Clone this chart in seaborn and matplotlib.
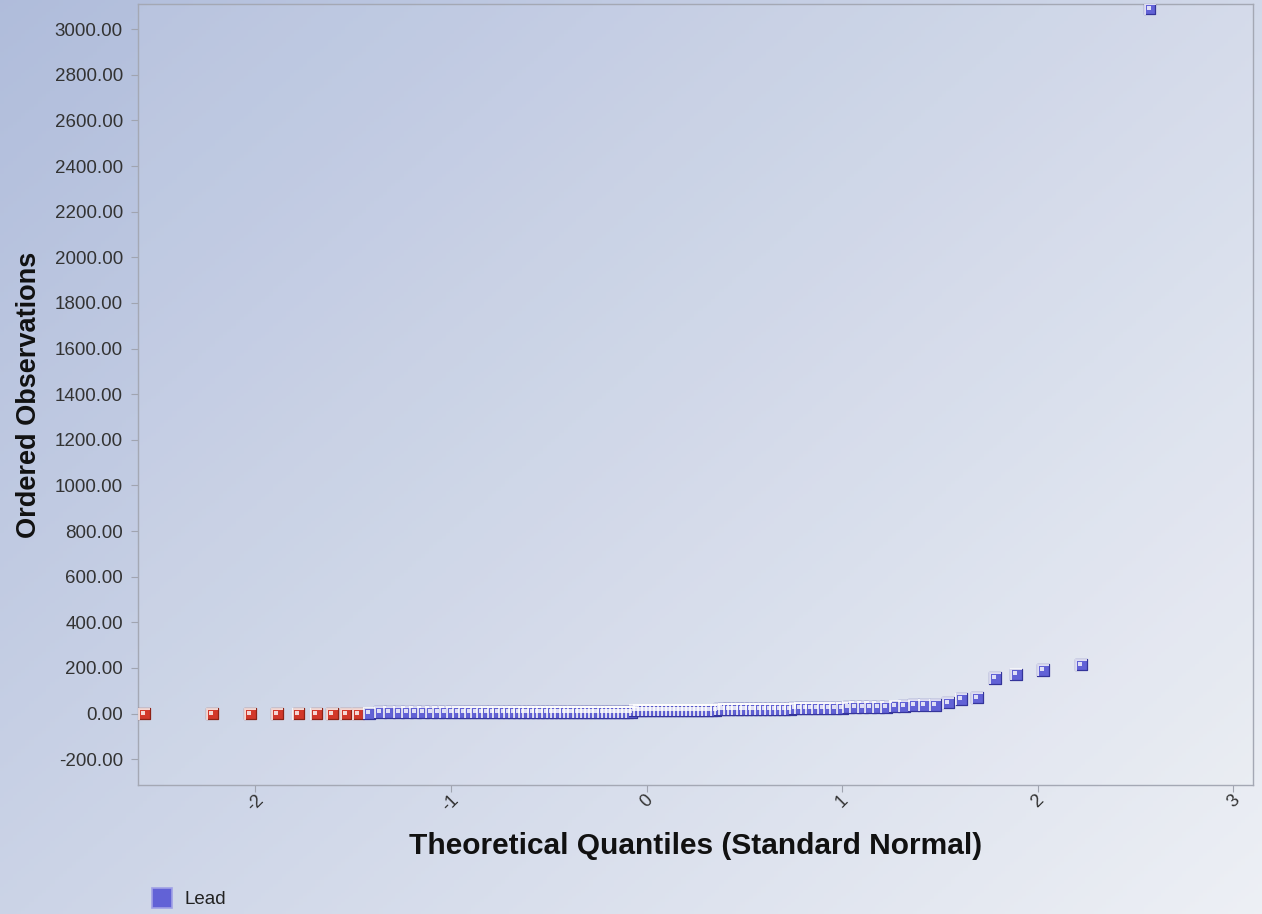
import numpy as np
import pandas as pd
import matplotlib
matplotlib.use("Agg")
import matplotlib.pyplot as plt
import seaborn as sns
from statistics import NormalDist
from matplotlib.path import Path
from matplotlib.lines import Line2D

# ---------------- data ----------------
lead_ordered = [
    0, 0, 0, 0, 0, 0, 0, 0, 0,
    1,
    8, 8, 8, 8, 8, 8, 8, 8, 8, 8, 8, 8, 8, 8, 8, 8,
    8, 8, 8, 8, 8, 8, 8, 8, 8, 8, 8, 8, 8, 8, 8, 8,
    8, 8, 8, 8, 8, 8, 8, 8, 8, 8, 8, 8, 8, 8, 8, 8,
    14, 14, 14, 14, 14, 14, 14, 14, 14, 14, 14, 14, 14, 14, 14, 14, 14, 14, 14, 14, 14,
    20, 20, 20, 20, 20, 20, 20, 20, 20, 20, 20, 20, 20, 20, 20, 20,
    25, 25, 25, 25, 25, 25, 25, 25, 25,
    30, 30, 30, 30, 30, 30,
    32, 33, 37, 38, 39, 48, 65, 70, 155, 172, 190, 215, 3090,
]
status = ["Non-detect"] * 9 + ["Lead"] * (len(lead_ordered) - 9)
x_ticks = [-2, -1, 0, 1, 2, 3]
x_tick_labels = ["-2", "-1", "0", "1", "2", "3"]
y_ticks = list(range(-200, 3001, 200))
series_name = "Lead"

# theoretical normal quantiles (Blom plotting positions) for the ordered observations
n = len(lead_ordered)
nd = NormalDist()
theo = [nd.inv_cdf((i - 0.375) / (n + 0.25)) for i in range(1, n + 1)]
df = pd.DataFrame({"theoretical": theo, "observed": lead_ordered, "status": status})

# ---------------- styling ----------------
sns.set_theme(style="white")
plt.rcParams["font.family"] = ["Liberation Sans", "DejaVu Sans"]
plt.rcParams["axes.unicode_minus"] = False

fig = plt.figure(figsize=(12.62, 9.14), dpi=100)

# gradient background
bg = fig.add_axes([0, 0, 1, 1], zorder=-10)
gx, gy = np.meshgrid(np.linspace(0, 1, 300), np.linspace(0, 1, 300))
t = np.clip(0.55 * gx + 0.45 * gy, 0, 1)  # gy: 0 at top (imshow origin upper)
c0 = np.array([0.69, 0.74, 0.86])
c1 = np.array([0.93, 0.94, 0.96])
img = c0[None, None, :] * (1 - t[..., None]) + c1[None, None, :] * t[..., None]
bg.imshow(img, extent=[0, 1, 0, 1], aspect="auto", origin="upper")
bg.axis("off")

ax = fig.add_axes([0.1094, 0.1411, 0.8835, 0.8545])
ax.set_facecolor((1, 1, 1, 0.07))

palette = {"Non-detect": "#d2382a", "Lead": "#6262d6"}
edges = df["status"].map({"Non-detect": "#8e2216", "Lead": "#34349a"})
sns.scatterplot(data=df, x="theoretical", y="observed", hue="status", palette=palette,
                marker="s", s=70, linewidth=0.9, edgecolor=edges.tolist(),
                legend=False, ax=ax, zorder=3)

# bevel highlight on each marker: thin light frame on top/left plus small inner square
hl = Path([(-1, 1), (1, 1), (1, 0.75), (-0.75, 0.75), (-0.75, -1), (-1, -1), (-1, 1),
           (-0.6, 0.6), (0.15, 0.6), (0.15, -0.15), (-0.6, -0.15), (-0.6, 0.6)],
          [Path.MOVETO] + [Path.LINETO] * 5 + [Path.CLOSEPOLY]
          + [Path.MOVETO] + [Path.LINETO] * 3 + [Path.CLOSEPOLY])
sns.scatterplot(data=df, x="theoretical", y="observed", color="white", alpha=0.8,
                marker=hl, s=70, linewidth=0, legend=False, ax=ax, zorder=4)

ax.set_xlim(-2.6, 3.1)
ax.set_ylim(-313, 3110)
ax.set_xticks(x_ticks)
ax.set_xticklabels(x_tick_labels, rotation=45, ha="center", fontsize=13, color="#333333")
ax.set_yticks(y_ticks)
ax.set_yticklabels([f"{v:.2f}" for v in y_ticks], fontsize=13.5, color="#333333")
ax.tick_params(axis="both", which="major", length=5, width=0.8, color="#a0a4b0",
               direction="out", bottom=True, left=True)
ax.tick_params(axis="x", pad=0)
ax.tick_params(axis="y", pad=6)
for sp in ax.spines.values():
    sp.set_color("#a4a8b4")
    sp.set_linewidth(1.0)

ax.set_xlabel("Theoretical Quantiles (Standard Normal)", fontsize=21.5, fontweight="bold",
              color="#111111", labelpad=12)
ax.set_ylabel("Ordered Observations", fontsize=19.5, fontweight="bold", color="#111111",
              labelpad=9)

handle = Line2D([], [], linestyle="none", marker="s", markersize=15,
                markerfacecolor="#6262d6", markeredgecolor="#a0a0e6", markeredgewidth=1.2)
fig.legend([handle], [series_name], loc="lower left", bbox_to_anchor=(0.1, -0.012),
           frameon=False, fontsize=13.5, handletextpad=0.2, labelcolor="#222222")

fig.savefig("out.png", dpi=100)
